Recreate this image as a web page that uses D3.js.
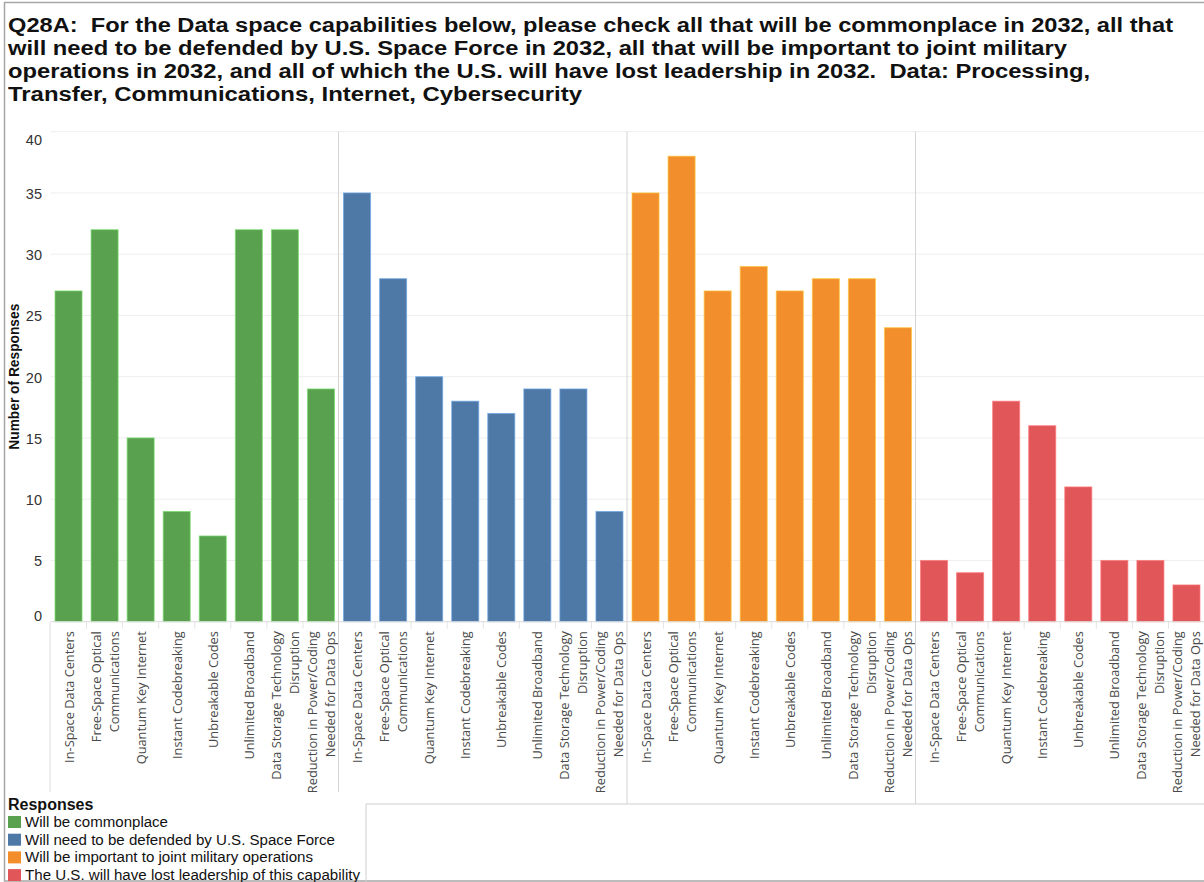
<!DOCTYPE html>
<html>
<head>
<meta charset="utf-8">
<script src="https://cdn.jsdelivr.net/npm/d3@7"></script>
<style>
  html, body { margin: 0; padding: 0; background: #fff; }
  svg { display: block; }
</style>
</head>
<body>
<svg id="chart" width="1204" height="882"></svg>
<script>
// ---------------- DATA ----------------
const titleLines = [
  "Q28A:  For the Data space capabilities below, please check all that will be commonplace in 2032, all that",
  "will need to be defended by U.S. Space Force in 2032, all that will be important to joint military",
  "operations in 2032, and all of which the U.S. will have lost leadership in 2032.  Data: Processing,",
  "Transfer, Communications, Internet, Cybersecurity"
];
const categories = [
  ["In-Space Data Centers"],
  ["Free-Space Optical", "Communications"],
  ["Quantum Key Internet"],
  ["Instant Codebreaking"],
  ["Unbreakable Codes"],
  ["Unlimited Broadband"],
  ["Data Storage Technology", "Disruption"],
  ["Reduction in Power/Coding", "Needed for Data Ops"]
];
const responses = [
  "Will be commonplace",
  "Will need to be defended by U.S. Space Force",
  "Will be important to joint military operations",
  "The U.S. will have lost leadership of this capability"
];
const commonplace    = [27, 32, 15, 9, 7, 32, 32, 19];
const defended       = [35, 28, 20, 18, 17, 19, 19, 9];
const important      = [35, 38, 27, 29, 27, 28, 28, 24];
const lostLeadership = [5, 4, 18, 16, 11, 5, 5, 3];
const yTicks = [0, 5, 10, 15, 20, 25, 30, 35, 40];
const yTitle = "Number of Responses";
const legendTitle = "Responses";
const colors = ["#59a14f", "#4e79a7", "#f28e2b", "#e15759"];

// ---------------- LAYOUT ----------------
const seriesValues = [commonplace, defended, important, lostLeadership];
const svg = d3.select("#chart");
const plotTop = 131.7, plotBottom = 621.7, plotLeft = 50.5, plotRight = 1204.5;
const labelBottom = 792;

const y = d3.scaleLinear().domain([0, 40]).range([plotBottom, plotTop]);
const xOuter = d3.scaleBand().domain(responses).range([plotLeft, plotRight]).padding(0);
const catKeys = categories.map(c => c.join(" "));
const xInner = d3.scaleBand().domain(catKeys).range([0, xOuter.bandwidth()])
  .paddingInner(0.25).paddingOuter(0.125);
const color = d3.scaleOrdinal().domain(responses).range(colors);

// outer frame
svg.append("rect").attr("x", 4.5).attr("y", 2.5).attr("width", 1210).attr("height", 878.5)
  .attr("fill", "none").attr("stroke", "#a6a6a6").attr("stroke-width", 1.5);

// title
const title = svg.append("g").attr("font-family", "Liberation Sans, Arial, sans-serif")
  .attr("font-weight", "bold").attr("font-size", 20).attr("fill", "#111");
const titleEnds = [1173, 1067, 1090, 582];
titleLines.forEach((t, i) => {
  title.append("text").attr("x", 8).attr("y", 32 + i * 23)
    .attr("xml:space", "preserve").style("white-space", "pre")
    .attr("textLength", titleEnds[i] - 8).attr("lengthAdjust", "spacingAndGlyphs")
    .text(t);
});

// gridlines
svg.append("g").selectAll("line").data(yTicks.filter(d => d > 0)).join("line")
  .attr("x1", plotLeft).attr("x2", plotRight)
  .attr("y1", d => y(d)).attr("y2", d => y(d))
  .attr("stroke", "#eeeeee").attr("stroke-width", 1);

// y tick labels
svg.append("g").attr("font-family", "Liberation Sans, Arial, sans-serif")
  .attr("font-size", 14.5).attr("fill", "#333")
  .selectAll("text").data(yTicks).join("text")
  .attr("x", 42).attr("text-anchor", "end").attr("dominant-baseline", "central")
  .attr("y", d => d === 40 ? y(d) + 8 : d === 0 ? y(d) - 6 : y(d) + 1)
  .text(d => d);

// y title
svg.append("text")
  .attr("transform", `translate(19,${(plotTop + plotBottom) / 2 + 0}) rotate(-90)`)
  .attr("text-anchor", "middle")
  .attr("font-family", "Liberation Sans, Arial, sans-serif").attr("font-weight", "bold")
  .attr("font-size", 14).attr("fill", "#111")
  .attr("textLength", 146).attr("lengthAdjust", "spacingAndGlyphs")
  .text(yTitle);

// panels
const panels = svg.append("g").selectAll("g").data(responses).join("g")
  .attr("transform", d => `translate(${xOuter(d)},0)`);

panels.each(function (resp, pi) {
  const g = d3.select(this);
  const vals = seriesValues[pi];
  g.selectAll("rect").data(catKeys.map((k, i) => ({ k, v: vals[i] }))).join("rect")
    .attr("x", d => xInner(d.k))
    .attr("width", xInner.bandwidth())
    .attr("y", d => y(d.v))
    .attr("height", d => y(0) - y(d.v))
    .attr("fill", color(resp))
    .attr("stroke", d3.color(color(resp)).brighter(0.9))
    .attr("stroke-opacity", 0.7)
    .attr("stroke-width", 1);

  // category boundary ticks
  const step = xInner.step();
  g.selectAll("line.tick").data(d3.range(1, categories.length)).join("line")
    .attr("class", "tick")
    .attr("x1", i => xInner(catKeys[0]) - xInner.paddingInner() * step / 2 + i * step)
    .attr("x2", i => xInner(catKeys[0]) - xInner.paddingInner() * step / 2 + i * step)
    .attr("y1", plotBottom).attr("y2", plotBottom + 7)
    .attr("stroke", "#e4e4e4");

  // x labels
  const lab = g.append("g").attr("font-family", "Open Sans, sans-serif")
    .attr("font-size", 12.8).attr("fill", "#4a4a4a");
  categories.forEach((lines, ci) => {
    const cx = xInner(catKeys[ci]) + xInner.bandwidth() / 2;
    lines.forEach((ln, li) => {
      const off = lines.length === 1 ? 0 : (li === 0 ? -9 : 9);
      lab.append("text")
        .attr("transform", `translate(${cx + off},${plotBottom + 9.5}) rotate(-90)`)
        .attr("text-anchor", "end").attr("dominant-baseline", "central")
        .text(ln);
    });
  });
});

// baseline
svg.append("line").attr("x1", plotLeft).attr("x2", plotRight)
  .attr("y1", plotBottom).attr("y2", plotBottom).attr("stroke", "#d9d9d9");

// panel separators
const sepX = responses.slice(1).map(r => xOuter(r) - 0.5);
svg.append("g").selectAll("line").data(sepX).join("line")
  .attr("x1", d => d).attr("x2", d => d)
  .attr("y1", plotTop).attr("y2", (d, i) => i === 0 ? labelBottom : 804)
  .attr("stroke", "#d4d4d4");
// left edge of the x label area
svg.append("line").attr("x1", plotLeft - 0.5).attr("x2", plotLeft - 0.5)
  .attr("y1", plotBottom).attr("y2", labelBottom).attr("stroke", "#dcdcdc");

// lower right box
svg.append("path").attr("d", `M366,882 V804 H1204`)
  .attr("fill", "none").attr("stroke", "#cfcfcf");

// legend
const leg = svg.append("g").attr("font-family", "Liberation Sans, Arial, sans-serif");
leg.append("text").attr("x", 8).attr("y", 809.5).attr("font-weight", "bold")
  .attr("font-size", 16).attr("fill", "#111").text(legendTitle);
const legEnds = [168, 335, 313, 360];
const items = leg.selectAll("g.item").data(responses).join("g").attr("class", "item")
  .attr("transform", (d, i) => `translate(0,${827 + i * 17.7})`);
items.append("rect").attr("x", 8).attr("y", -11).attr("width", 13).attr("height", 12)
  .attr("fill", d => color(d));
items.append("text").attr("x", 25).attr("y", 0).attr("font-size", 15.5).attr("fill", "#111")
  .attr("textLength", (d, i) => legEnds[i] - 25).attr("lengthAdjust", "spacingAndGlyphs")
  .text(d => d);
</script>
</body>
</html>
